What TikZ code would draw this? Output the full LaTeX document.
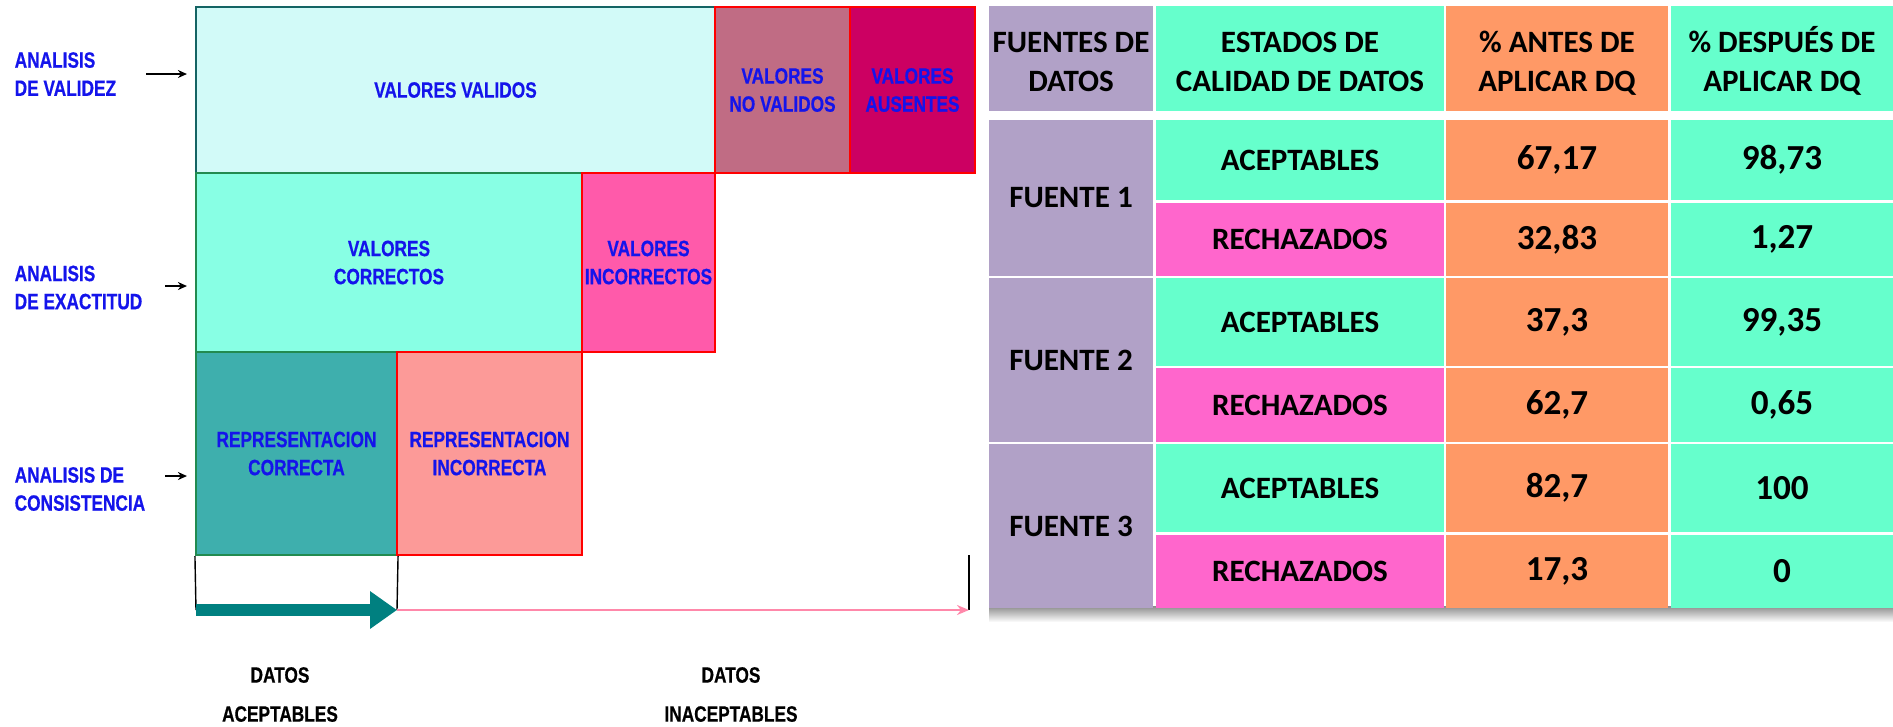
\documentclass[tikz,border=0pt]{standalone}
\usepackage{fontspec}
\usepackage{xcolor}
\usetikzlibrary{arrows.meta}
\usetikzlibrary{fadings}

\newfontfamily\estrecha[FakeStretch=0.78,FakeBold=0.6]{Liberation Sans Bold}
\newfontfamily\calibri{Carlito}
\newcommand\letracaja{\estrecha\fontsize{6.3}{8}\selectfont}
\newcommand\letratabla{\calibri\bfseries\fontsize{8.84}{11.1}\selectfont}
\newcommand\letravalor{\calibri\bfseries\fontsize{10}{12}\selectfont}
\newcommand\cabecera[1]{\raisebox{-1.5pt}[\height][\depth]{\begin{tabular}{@{}c@{}}#1\end{tabular}}}

\definecolor{validos}{RGB}{210,250,248}
\definecolor{novalidos}{RGB}{192,108,132}
\definecolor{ausentes}{RGB}{204,0,98}
\definecolor{correctos}{RGB}{136,255,228}
\definecolor{incorrectos}{RGB}{255,90,170}
\definecolor{repcorrecta}{RGB}{62,175,173}
\definecolor{repincorrecta}{RGB}{252,154,152}
\definecolor{tealosc}{RGB}{0,128,128}
\definecolor{rosa}{RGB}{255,136,170}
\definecolor{azul}{RGB}{20,20,235}
\definecolor{lila}{RGB}{177,161,199}
\definecolor{menta}{RGB}{102,255,204}
\definecolor{naranja}{RGB}{255,153,102}
\definecolor{fucsia}{RGB}{255,102,204}
\definecolor{bordeverde}{RGB}{34,139,80}
\definecolor{bordeazul}{RGB}{20,100,100}

\tikzset{
  caja/.style={rectangle,inner sep=0pt,line width=0.6pt,text=azul,align=center,font=\letracaja},
  cajaroja/.style={caja,draw=red},
  analisis/.style={anchor=west,inner sep=0pt,align=left,text=azul,font=\letracaja},
  datos/.style={inner sep=0pt,align=center,font=\letracaja},
  celda/.style={rectangle,inner sep=0pt,align=center,font=\letratabla},
  valor/.style={celda,font=\letravalor},
  flecha/.style={-{Stealth[length=0.09cm,width=0.08cm]},line width=0.6pt,shorten >=0.08cm},
}

\begin{document}
\begin{tikzpicture}
\useasboundingbox (0,0) rectangle (18.93,-7.26);

% niveles de analisis
\node at (4.555,-0.90) [caja,draw=bordeazul,fill=validos,minimum width=5.19cm,minimum height=1.66cm] (vv) {VALORES VALIDOS};
\node at (7.825,-0.90) [cajaroja,fill=novalidos,minimum width=1.35cm,minimum height=1.66cm] (nv) {VALORES\\NO VALIDOS};
\node at (9.125,-0.90) [cajaroja,fill=ausentes,minimum width=1.25cm,minimum height=1.66cm] (au) {VALORES\\AUSENTES};

\node at (3.89,-2.625) [caja,draw=bordeverde,fill=correctos,minimum width=3.86cm,minimum height=1.79cm] (vc) {VALORES\\CORRECTOS};
\node at (6.485,-2.625) [cajaroja,fill=incorrectos,minimum width=1.33cm,minimum height=1.79cm] (vi) {VALORES\\INCORRECTOS};

\node at (2.965,-4.535) [caja,draw=bordeverde,fill=repcorrecta,minimum width=2.01cm,minimum height=2.03cm] (rc) {REPRESENTACION\\CORRECTA};
\node at (4.895,-4.535) [cajaroja,fill=repincorrecta,minimum width=1.85cm,minimum height=2.03cm] (ri) {REPRESENTACION\\INCORRECTA};

\node at (0.14,-0.74) [analisis] (av) {ANALISIS\\DE VALIDEZ};
\node at (0.14,-2.875) [analisis] (ae) {ANALISIS\\DE EXACTITUD};
\node at (0.14,-4.89) [analisis] (ac) {ANALISIS DE\\CONSISTENCIA};

\coordinate (pv) at (1.46,-0.74);
\coordinate (pe) at (1.65,-2.86);
\coordinate (pc) at (1.65,-4.76);
\draw [flecha] (pv) -- (pv -| vv.west);
\draw [flecha] (pe) -- (pe -| vc.west);
\draw [flecha] (pc) -- (pc -| rc.west);

% escala de datos
\coordinate (b0) at (1.96,-6.10);
\coordinate (b1) at (3.97,-6.10);
\coordinate (b2) at (9.69,-6.10);
\coordinate (t2) at (9.69,-5.55);
\draw [line width=0.4pt] (rc.south west) -- (b0);
\draw [line width=0.4pt] (rc.south east) -- (b1);
\draw [line width=0.4pt] (t2) -- (b2);
\draw [tealosc,line width=0.12cm,-{Triangle[length=0.27cm,width=0.36cm]}] (b0) -- (b1);
\draw [rosa,line width=0.8pt,-{Stealth[length=0.12cm,width=0.1cm]}] (b1) -- (b2);

\node at (2.80,-6.945) [datos] (da) {DATOS\\[3.1pt]ACEPTABLES};
\node at (7.31,-6.945) [datos] (di) {DATOS\\[3.1pt]INACEPTABLES};

% tabla
\fill [black!45,path fading=south] (9.89,-6.06) rectangle (18.93,-6.22);

\node at (10.71,-0.585) [celda,fill=lila,minimum width=1.64cm,minimum height=1.05cm] (h1) {\cabecera{FUENTES DE\\DATOS}};
\node at (13.00,-0.585) [celda,fill=menta,minimum width=2.88cm,minimum height=1.05cm] (h2) {\cabecera{ESTADOS DE\\CALIDAD DE DATOS}};
\node at (15.57,-0.585) [celda,fill=naranja,minimum width=2.22cm,minimum height=1.05cm] (h3) {\cabecera{\% ANTES DE\\APLICAR DQ}};
\node at (17.82,-0.585) [celda,fill=menta,minimum width=2.22cm,minimum height=1.05cm] (h4) {\cabecera{\% DESPUÉS DE\\APLICAR DQ}};

\node at (10.71,-1.98) [celda,fill=lila,minimum width=1.64cm,minimum height=1.56cm] (f1) {FUENTE 1};
\node at (10.71,-3.60) [celda,fill=lila,minimum width=1.64cm,minimum height=1.64cm] (f2) {FUENTE 2};
\node at (10.71,-5.26) [celda,fill=lila,minimum width=1.64cm,minimum height=1.64cm] (f3) {FUENTE 3};

\node at (13.00,-1.60) [celda,fill=menta,minimum width=2.88cm,minimum height=0.80cm] (e1a) {ACEPTABLES};
\node at (15.57,-1.60) [valor,fill=naranja,minimum width=2.22cm,minimum height=0.80cm] (a1a) {67,17};
\node at (17.82,-1.60) [valor,fill=menta,minimum width=2.22cm,minimum height=0.80cm] (d1a) {98,73};
\node at (13.00,-2.395) [celda,fill=fucsia,minimum width=2.88cm,minimum height=0.73cm] (e1b) {RECHAZADOS};
\node at (15.57,-2.395) [valor,fill=naranja,minimum width=2.22cm,minimum height=0.73cm] (a1b) {32,83};
\node at (17.82,-2.395) [valor,fill=menta,minimum width=2.22cm,minimum height=0.73cm] (d1b) {1,27};

\node at (13.00,-3.22) [celda,fill=menta,minimum width=2.88cm,minimum height=0.88cm] (e2a) {ACEPTABLES};
\node at (15.57,-3.22) [valor,fill=naranja,minimum width=2.22cm,minimum height=0.88cm] (a2a) {37,3};
\node at (17.82,-3.22) [valor,fill=menta,minimum width=2.22cm,minimum height=0.88cm] (d2a) {99,35};
\node at (13.00,-4.05) [celda,fill=fucsia,minimum width=2.88cm,minimum height=0.74cm] (e2b) {RECHAZADOS};
\node at (15.57,-4.05) [valor,fill=naranja,minimum width=2.22cm,minimum height=0.74cm] (a2b) {62,7};
\node at (17.82,-4.05) [valor,fill=menta,minimum width=2.22cm,minimum height=0.74cm] (d2b) {0,65};

\node at (13.00,-4.88) [celda,fill=menta,minimum width=2.88cm,minimum height=0.88cm] (e3a) {ACEPTABLES};
\node at (15.57,-4.88) [valor,fill=naranja,minimum width=2.22cm,minimum height=0.88cm] (a3a) {82,7};
\node at (17.82,-4.88) [valor,fill=menta,minimum width=2.22cm,minimum height=0.88cm] (d3a) {100};
\node at (13.00,-5.715) [celda,fill=fucsia,minimum width=2.88cm,minimum height=0.73cm] (e3b) {RECHAZADOS};
\node at (15.57,-5.715) [valor,fill=naranja,minimum width=2.22cm,minimum height=0.73cm] (a3b) {17,3};
\node at (17.82,-5.715) [valor,fill=menta,minimum width=2.22cm,minimum height=0.73cm] (d3b) {0};
\end{tikzpicture}
\end{document}
